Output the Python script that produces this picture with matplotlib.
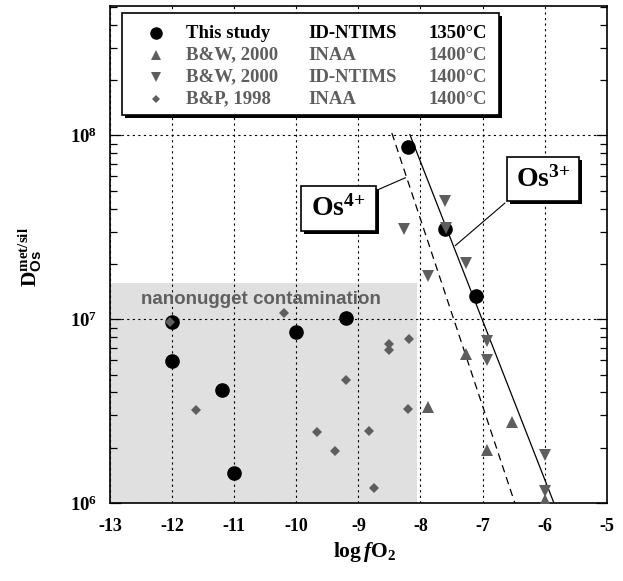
import math
import matplotlib
matplotlib.use("Agg")
import matplotlib.pyplot as plt
from matplotlib.patches import Rectangle
from matplotlib.ticker import FuncFormatter, FixedLocator, LogLocator, NullFormatter

plt.rcParams['font.family'] = ['Liberation Serif', 'DejaVu Serif']
plt.rcParams['font.weight'] = 'bold'
plt.rcParams['mathtext.fontset'] = 'custom'
plt.rcParams['mathtext.rm'] = 'Liberation Serif'
plt.rcParams['mathtext.bf'] = 'Liberation Serif:bold'
plt.rcParams['mathtext.it'] = 'Liberation Serif:italic:bold'
plt.rcParams['mathtext.sf'] = 'Liberation Sans:bold'
plt.rcParams['axes.unicode_minus'] = False

W, H = 623, 581
GRAY = '#5e5e5e'

# --- data (log fO2, D met/sil) ------------------------------------------
this_x = [-8.2, -7.6, -7.1, -12.0, -9.2, -10.0, -12.0, -11.2, -11.0]
this_y = [8.6e7, 3.1e7, 1.33e7, 9.6e6, 1.01e7, 8.5e6, 5.9e6, 4.1e6, 1.46e6]

bw_inaa_x = [-7.88, -7.27, -6.92, -6.52, -6.0]
bw_inaa_y = [3.35e6, 6.5e6, 1.95e6, 2.75e6, 1.04e6]

bw_id_x = [-7.6, -8.27, -7.59, -7.27, -7.88, -6.92, -6.92, -6.0, -6.0]
bw_id_y = [4.4e7, 3.1e7, 3.15e7, 2.02e7, 1.71e7, 7.6e6, 6.0e6, 1.83e6, 1.16e6]

bp_x = [-10.19, -8.19, -12.03, -8.5, -8.5, -9.2, -11.62, -8.2, -9.67,
        -8.83, -9.37, -8.75]
bp_y = [1.08e7, 7.8e6, 9.6e6, 7.3e6, 6.8e6, 4.65e6, 3.2e6, 3.25e6, 2.42e6,
        2.47e6, 1.93e6, 1.21e6]

os3_x = [-8.17, -5.85]
os3_y = [1.01e8, 1.0e6]
os4_x = [-8.46, -6.48]
os4_y = [1.03e8, 1.0e6]

nugget_x = [-13, -8.06]
nugget_top = 1.57e7

x_ticks = list(range(-13, -4))

leg_names = ['This study', 'B&W, 2000', 'B&W, 2000', 'B&P, 1998']
leg_methods = ['ID-NTIMS', 'INAA', 'ID-NTIMS', 'INAA']
leg_temps = ['1350°C', '1400°C', '1400°C', '1400°C']
leg_markers = ['o', '^', 'v', 'D']
leg_colors = ['black', GRAY, GRAY, GRAY]
leg_msize = [9, 6.5, 6.5, 4.5]


def fpx(x, y):
    """figure pixel (from top-left) -> figure fraction"""
    return x / W, 1 - y / H


def shadow_box(x0, y0, x1, y1, lw=1.2, off=3):
    sx, sy = fpx(x0 + off, y1 + off)
    fig.add_artist(Rectangle((sx, sy), (x1 - x0) / W, (y1 - y0) / H,
                             transform=fig.transFigure, facecolor='black',
                             edgecolor='black', lw=0, zorder=5))
    bx, by = fpx(x0, y1)
    fig.add_artist(Rectangle((bx, by), (x1 - x0) / W, (y1 - y0) / H,
                             transform=fig.transFigure, facecolor='white',
                             edgecolor='black', lw=lw, zorder=6))


fig = plt.figure(figsize=(W / 100, H / 100), dpi=100)
ax = fig.add_axes([110 / W, 78 / H, 496.7 / W, 497 / H])

ax.set_yscale('log')
ax.set_xlim(-13, -5)
ax.set_ylim(1e6, 5.06e8)

# shaded nanonugget region
ax.fill_between(nugget_x, 1e6, nugget_top, color='#e0e0e0', lw=0, zorder=0.5)
ax.text(-10.57, 1.28e7, 'nanonugget contamination', family='Liberation Sans',
        weight='bold', fontsize=13.5, color='#606060', ha='center',
        va='center', zorder=2)

# grid
ax.set_axisbelow('line')
ax.grid(True, which='major', color='black', linestyle=(0, (2, 3)), lw=0.8)

# fit lines
ax.plot(os3_x, os3_y, color='black', lw=0.9, zorder=3)
ax.plot(os4_x, os4_y, color='black', lw=0.9, linestyle=(0, (6, 4)), zorder=3)

# data
ax.plot(this_x, this_y, 'o', color='black', ms=9.5, zorder=4)
ax.plot(bw_inaa_x, bw_inaa_y, '^', color=GRAY, ms=8.5, mew=0, zorder=5)
ax.plot(bw_id_x, bw_id_y, 'v', color=GRAY, ms=8.5, mew=0, zorder=5)
ax.plot(bp_x, bp_y, 'D', color=GRAY, ms=5.2, mew=0, zorder=5)

# ticks
ax.set_xticks(x_ticks, [str(t) for t in x_ticks], fontweight='bold',
              fontsize=13)
ax.yaxis.set_major_locator(FixedLocator([1e6, 1e7, 1e8]))
ax.yaxis.set_major_formatter(
    FuncFormatter(lambda v, p: r'$\mathbf{10^{%d}}$' % round(math.log10(v))))
ax.yaxis.set_minor_locator(LogLocator(base=10, subs=range(2, 10)))
ax.yaxis.set_minor_formatter(NullFormatter())
ax.tick_params(axis='x', length=0, pad=11)
ax.tick_params(axis='y', which='major', direction='in', length=8, width=0.9,
               left=True, right=True, pad=9, labelsize=13.5)
ax.tick_params(axis='y', which='minor', direction='in', length=5, width=0.9,
               left=True, right=True)
for s in ax.spines.values():
    s.set_linewidth(1.2)

# axis labels
fig.text(*fpx(365, 552), r'$\mathbf{log}\,\mathit{f}\mathbf{O}_{\mathbf{2}}$',
         fontsize=15.5, ha='center', va='center')
fig.text(*fpx(30, 257), r'$\mathbf{D}^{\mathbf{met/sil}}_{\mathsf{Os}}$',
         fontsize=15.5, ha='center', va='center', rotation=90)

# legend table
shadow_box(121.7, 12.7, 499, 115)
rows_y = [33, 55, 77, 99]
for i, ry in enumerate(rows_y):
    mx, my = fpx(155.7, ry)
    fig.add_artist(plt.Line2D([mx], [my], marker=leg_markers[i], ms=leg_msize[i],
                              color=leg_colors[i], mew=0, ls='none',
                              transform=fig.transFigure, zorder=7))
    for cx, txt in zip([186, 308, 428],
                       [leg_names[i], leg_methods[i], leg_temps[i]]):
        fig.text(*fpx(cx, ry), txt, fontsize=13.5, weight='bold',
                 color=leg_colors[i], ha='left', va='center', zorder=8)

# Os label boxes with connectors
ax.annotate('', xy=(-8.24, 10 ** 7.77), xycoords='data',
            xytext=(375.7, H - 190.7), textcoords='figure pixels',
            arrowprops=dict(arrowstyle='-', lw=0.8, shrinkA=0, shrinkB=0))
ax.annotate('', xy=(-7.44, 10 ** 7.40), xycoords='data',
            xytext=(505, H - 203), textcoords='figure pixels',
            arrowprops=dict(arrowstyle='-', lw=0.8, shrinkA=0, shrinkB=0))
shadow_box(301, 186, 375.7, 230.7)
shadow_box(506.7, 156.7, 579, 201)
fig.text(*fpx(338.3, 208.5), r'Os$^{\mathrm{4{+}}}$', fontsize=20, weight='bold',
         ha='center', va='center', zorder=8)
fig.text(*fpx(542.8, 179), r'Os$^{\mathrm{3{+}}}$', fontsize=20, weight='bold',
         ha='center', va='center', zorder=8)

fig.savefig('out.png', dpi=100, facecolor='white')
